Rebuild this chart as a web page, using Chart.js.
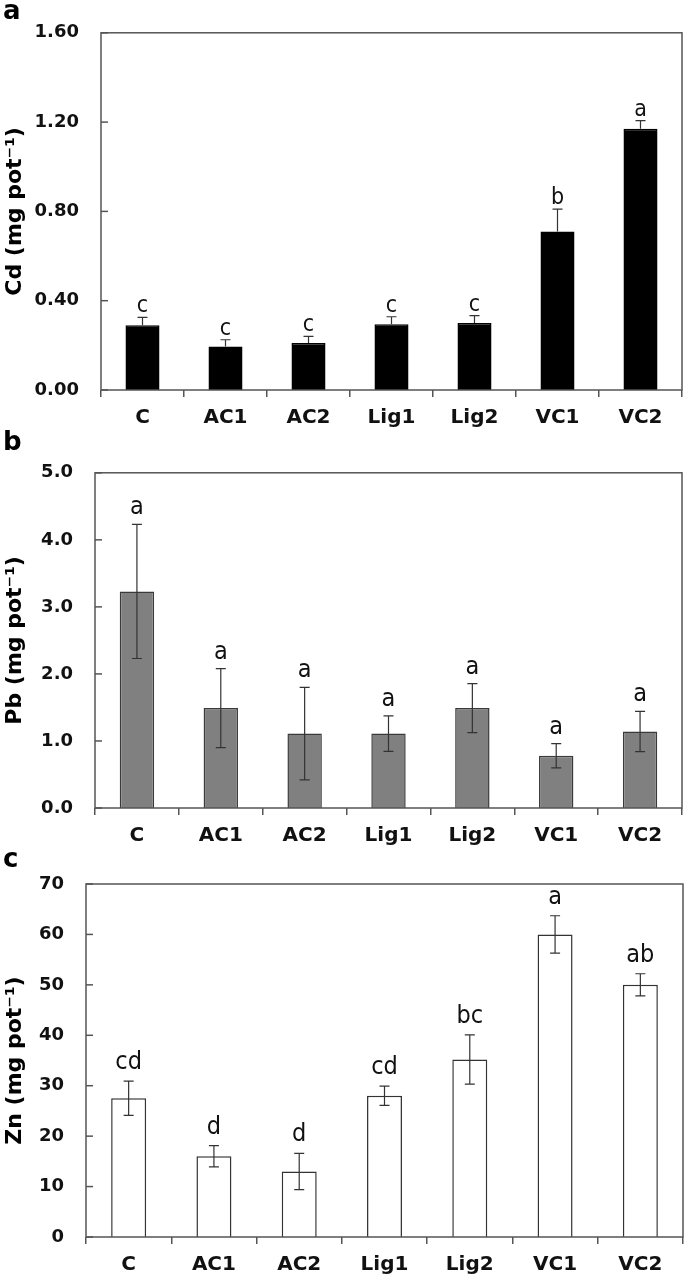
<!DOCTYPE html>
<html>
<head>
<meta charset="utf-8">
<script src="https://cdn.jsdelivr.net/npm/chart.js@4.4.1/dist/chart.umd.min.js"></script>
<style>
  body { margin: 0; background: #fff; width: 685px; height: 1279px; position: relative; overflow: hidden; }
  canvas { position: absolute; left: 0; }
  .tag { position: absolute; left: 3px; font: bold 26px 'DejaVu Sans', sans-serif; color: #000; z-index: 2; }
</style>
</head>
<body>
<div class="tag" style="top:-5px">a</div>
<div class="tag" style="top:426px">b</div>
<div class="tag" style="top:843px">c</div>
<canvas id="cd" width="685" height="440" style="top:0"></canvas>
<canvas id="pb" width="685" height="410" style="top:440px"></canvas>
<canvas id="zn" width="685" height="429" style="top:850px"></canvas>
<script>
const groups = ['C', 'AC1', 'AC2', 'Lig1', 'Lig2', 'VC1', 'VC2'];

const cdMeans = [0.29, 0.195, 0.21, 0.295, 0.30, 0.71, 1.17];
const cdErrors = [0.035, 0.03, 0.03, 0.033, 0.033, 0.10, 0.037];
const cdLetters = ['c', 'c', 'c', 'c', 'c', 'b', 'a'];
const cdTicks = ['0.00', '0.40', '0.80', '1.20', '1.60'];

const pbMeans = [3.23, 1.49, 1.11, 1.11, 1.49, 0.78, 1.14];
const pbErrors = [1.0, 0.59, 0.69, 0.265, 0.365, 0.18, 0.30];
const pbLetters = ['a', 'a', 'a', 'a', 'a', 'a', 'a'];
const pbTicks = ['0.0', '1.0', '2.0', '3.0', '4.0', '5.0'];

const znMeans = [27.5, 16.0, 13.0, 28.0, 35.2, 60.0, 50.0];
const znErrors = [3.4, 2.1, 3.6, 1.9, 4.9, 3.7, 2.2];
const znLetters = ['cd', 'd', 'd', 'cd', 'bc', 'a', 'ab'];
const znTicks = ['0', '10', '20', '30', '40', '50', '60', '70'];

const boldFont = "'DejaVu Sans', sans-serif";
const letterFont = "'Liberation Sans Narrow', 'DejaVu Sans Condensed', 'Liberation Sans', sans-serif";
const lineColor = '#555';

// frame, inward y ticks, error bars and the letters above them
const barExtras = {
  id: 'barExtras',
  afterDatasetsDraw(chart, args, opts) {
    const ctx = chart.ctx;
    const area = chart.chartArea;
    const xs = chart.scales.x, ys = chart.scales.y;
    const ds = chart.data.datasets[0];
    ctx.save();
    ctx.strokeStyle = lineColor;
    ctx.lineWidth = 1.5;
    ctx.strokeRect(area.left, area.top, area.right - area.left, area.bottom - area.top);
    ys.ticks.forEach(t => {
      const py = ys.getPixelForValue(t.value);
      ctx.beginPath();
      ctx.moveTo(area.left, py);
      ctx.lineTo(area.left + 7, py);
      ctx.stroke();
    });
    ctx.strokeStyle = '#333';
    ctx.lineWidth = 1.2;
    ctx.fillStyle = '#111';
    ctx.font = opts.letterSize + 'px ' + letterFont;
    ctx.textAlign = 'center';
    ctx.textBaseline = 'alphabetic';
    ds.data.forEach((v, i) => {
      const px = xs.getPixelForValue(i);
      const mid = ys.getPixelForValue(v);
      const hi = ys.getPixelForValue(v + ds.errors[i]);
      const lo = opts.upOnly ? mid : ys.getPixelForValue(v - ds.errors[i]);
      ctx.beginPath();
      ctx.moveTo(px, hi); ctx.lineTo(px, lo);
      ctx.moveTo(px - 5, hi); ctx.lineTo(px + 5, hi);
      if (!opts.upOnly) { ctx.moveTo(px - 5, lo); ctx.lineTo(px + 5, lo); }
      ctx.stroke();
      ctx.fillText(ds.letters[i], px, hi - opts.gap);
    });
    ctx.restore();
  }
};

function panel(id, cfg) {
  new Chart(document.getElementById(id), {
    type: 'bar',
    data: {
      labels: groups,
      datasets: [{
        data: cfg.means,
        errors: cfg.errors,
        letters: cfg.letters,
        backgroundColor: cfg.fill,
        borderColor: cfg.border,
        borderWidth: 1.5,
        barPercentage: 0.41,
        categoryPercentage: 1
      }]
    },
    options: {
      responsive: false,
      animation: false,
      layout: { padding: { left: 0, right: cfg.right, top: cfg.top, bottom: 0 } },
      plugins: {
        legend: { display: false },
        tooltip: { enabled: false },
        barExtras: { gap: cfg.gap, letterSize: cfg.letterSize, upOnly: cfg.upOnly }
      },
      scales: {
        x: {
          afterFit: s => { s.height = cfg.xHeight; },
          border: { display: false },
          grid: { drawOnChartArea: false, drawTicks: true, tickLength: 7, color: lineColor, lineWidth: 1.5 },
          ticks: { color: '#111', padding: 9, font: { family: boldFont, size: 20, weight: 'bold' } }
        },
        y: {
          min: cfg.min, max: cfg.max,
          afterFit: s => { s.width = cfg.left; },
          border: { display: false },
          grid: { display: false, drawTicks: false },
          ticks: {
            stepSize: cfg.step,
            padding: 22,
            color: '#111',
            font: { family: boldFont, size: 18, weight: 'bold' },
            callback: (v, i) => cfg.tickLabels[i]
          },
          title: {
            display: true,
            text: cfg.title,
            color: '#000',
            padding: { top: 2, bottom: 0 },
            font: { family: boldFont, size: 22, weight: 'bold' }
          }
        }
      }
    },
    plugins: [barExtras]
  });
}

panel('cd', {
  means: cdMeans, errors: cdErrors, letters: cdLetters, tickLabels: cdTicks,
  fill: '#000', border: '#000', min: 0, max: 1.6, step: 0.4,
  title: 'Cd (mg pot\u207B\u00B9)', left: 101, right: 3, top: 32, xHeight: 50,
  gap: 5, letterSize: 23, upOnly: true
});

panel('pb', {
  means: pbMeans, errors: pbErrors, letters: pbLetters, tickLabels: pbTicks,
  fill: '#808080', border: '#3a3a3a', min: 0, max: 5, step: 1,
  title: 'Pb (mg pot\u207B\u00B9)', left: 95, right: 3, top: 28, xHeight: 42,
  gap: 10, letterSize: 25
});

panel('zn', {
  means: znMeans, errors: znErrors, letters: znLetters, tickLabels: znTicks,
  fill: '#fff', border: '#333', min: 0, max: 70, step: 10,
  title: 'Zn (mg pot\u207B\u00B9)', left: 86, right: 2, top: 34, xHeight: 42,
  gap: 12, letterSize: 25
});
</script>
</body>
</html>
